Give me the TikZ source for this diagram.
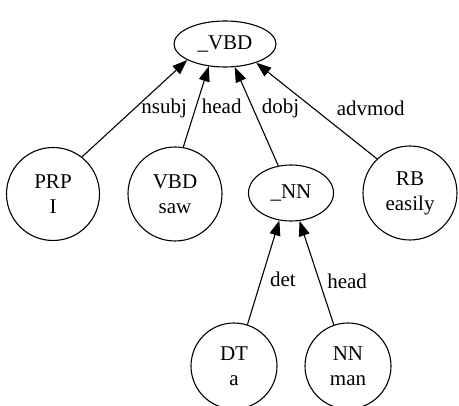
\documentclass[tikz,border=0pt]{standalone}
\usepackage{fontspec}
\setmainfont{Liberation Serif}
\usetikzlibrary{arrows.meta,shapes.geometric}
\begin{document}
\begin{tikzpicture}[x=1pt,y=-1pt,
    font=\fontsize{21}{25}\selectfont,
    phrase/.style={draw,ellipse,inner sep=0pt,line width=1.1pt},
    word/.style={draw,circle,align=center,inner sep=0pt,line width=1.1pt},
    dep/.style={line width=1.1pt,-{Triangle[length=15pt,width=11pt]}}]
        \useasboundingbox (0,0) rectangle (459,406);
        \node[phrase,minimum width=102pt,minimum height=46pt] (VBDP) at (225,44) {\_VBD};
        \node[word,minimum size=93pt] (PRP) at (53,194) {PRP\\I};
        \node[word,minimum size=94pt] (VBD) at (175,194) {VBD\\saw};
        \node[phrase,minimum width=85pt,minimum height=56pt] (NNP) at (291,193) {\_NN};
        \node[word,minimum size=94pt] (RB) at (410,193) {RB\\easily};
        \node[word,minimum size=86pt] (DT) at (234,366) {DT\\a};
        \node[word,minimum size=86pt] (NN) at (348,366) {NN\\man};

        \draw[dep] (PRP.52) -- node[pos=0.5,anchor=west,xshift=3pt] {nsubj} (VBDP.203);
        \draw[dep] (VBD.80) -- node[pos=0.5,anchor=west,xshift=2pt] {head} (VBDP.234);
        \draw[dep] (NNP.115) -- node[pos=0.58,anchor=west,xshift=5pt] {dobj} (VBDP.293);
        \draw[dep] (RB.134) -- node[pos=0.53,anchor=west,xshift=20pt] {advmod} (VBDP.329);

        \draw[dep] (DT.72) -- node[pos=0.43,anchor=west,xshift=5pt] {det} (NNP.247);
        \draw[dep] (NN.109) -- node[pos=0.42,anchor=west,xshift=4pt] {head} (NNP.287);
\end{tikzpicture}
\end{document}
